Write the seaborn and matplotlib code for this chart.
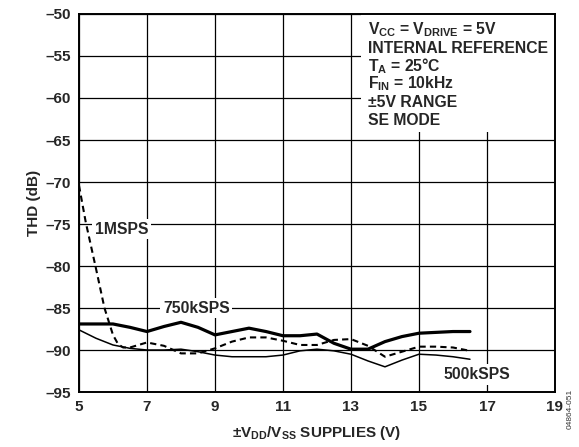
import pandas as pd
import seaborn as sns
import matplotlib.pyplot as plt
from matplotlib.patches import Rectangle

# data
x_750 = [5, 6, 6.5, 7, 7.5, 8, 8.5, 9, 9.5, 10, 10.5, 11, 11.5, 12, 12.5, 13, 13.5, 14, 14.5, 15, 15.5, 16, 16.5]
thd_750 = [-86.9, -86.9, -87.3, -87.8, -87.2, -86.7, -87.3, -88.2, -87.8, -87.4, -87.8, -88.3, -88.3, -88.1, -89.2, -89.9, -89.9, -89.0, -88.4, -88.0, -87.9, -87.8, -87.8]

x_500 = [5, 5.5, 6, 6.5, 7, 7.5, 8, 8.5, 9, 9.5, 10, 10.5, 11, 11.5, 12, 12.5, 13, 13.5, 14, 14.5, 15, 15.5, 16, 16.5]
thd_500 = [-87.6, -88.6, -89.4, -89.8, -90.0, -90.0, -89.9, -90.2, -90.6, -90.8, -90.8, -90.8, -90.6, -90.1, -89.9, -90.1, -90.5, -91.3, -92.0, -91.2, -90.5, -90.6, -90.8, -91.1]

x_1m = [5, 5.2, 5.5, 5.75, 6, 6.15, 6.3, 6.5, 7, 7.5, 8, 8.5, 9, 9.5, 10, 10.5, 11, 11.5, 12, 12.5, 13, 13.5, 14, 14.5, 15, 15.5, 16, 16.5]
thd_1m = [-70.4, -74.8, -80.3, -85.0, -88.2, -89.3, -89.7, -89.7, -89.1, -89.5, -90.4, -90.4, -89.8, -89.0, -88.5, -88.5, -88.9, -89.4, -89.4, -88.8, -88.7, -89.5, -90.8, -90.2, -89.6, -89.6, -89.7, -90.1]

x_ticks = [5, 7, 9, 11, 13, 15, 17, 19]
y_ticks = [-95, -90, -85, -80, -75, -70, -65, -60, -55, -50]

conditions = [
    r"V$_{\mathrm{CC}}$ = V$_{\mathrm{DRIVE}}$ = 5V",
    "INTERNAL REFERENCE",
    r"T$_{\mathrm{A}}$ = 25°C",
    r"F$_{\mathrm{IN}}$ = 10kHz",
    "±5V RANGE",
    "SE MODE",
]

sns.set_style("white")
plt.rcParams['font.family'] = ['Liberation Sans', 'DejaVu Sans']
plt.rcParams['font.weight'] = 'bold'
plt.rcParams['mathtext.fontset'] = 'custom'
plt.rcParams['mathtext.rm'] = 'Liberation Sans:bold'
plt.rcParams['mathtext.it'] = 'Liberation Sans:bold'
plt.rcParams['mathtext.bf'] = 'Liberation Sans:bold'

fig = plt.figure(figsize=(5.79, 4.47), dpi=100)
ax = fig.add_axes([0.1364, 0.123, 0.8221, 0.8457])

df_750 = pd.DataFrame({'x': x_750, 'thd': thd_750})
df_500 = pd.DataFrame({'x': x_500, 'thd': thd_500})
df_1m = pd.DataFrame({'x': x_1m, 'thd': thd_1m})

sns.lineplot(data=df_750, x='x', y='thd', ax=ax, color='black', linewidth=2.3, sort=False, zorder=5)
sns.lineplot(data=df_500, x='x', y='thd', ax=ax, color='black', linewidth=1.1, sort=False, zorder=5)
sns.lineplot(data=df_1m, x='x', y='thd', ax=ax, color='black', linewidth=1.5, sort=False, zorder=5,
             dashes=False, linestyle=(0, (3, 2)))

ax.set_xlim(5, 19)
ax.set_ylim(-95, -50)
ax.set_xticks(x_ticks)
ax.set_yticks(y_ticks)
ax.set_xticklabels([str(t) for t in x_ticks], fontsize=11, fontweight='bold')
ax.set_yticklabels([str(t).replace('-', '\u2013') for t in y_ticks], fontsize=11, fontweight='bold')
ax.tick_params(length=0, pad=6)
ax.grid(True, color='black', linewidth=0.9)
ax.set_axisbelow(True)
for s in ax.spines.values():
    s.set_color('black')
    s.set_linewidth(1.4)
    s.set_zorder(6)

ax.set_xlabel(r"±V$_{\mathrm{DD}}$/V$_{\mathrm{SS}}$ SUPPLIES (V)", fontsize=11, fontweight='bold', labelpad=7)
ax.set_ylabel("THD (dB)", fontsize=11, fontweight='bold', labelpad=3)

# curve labels with white backing that breaks the grid
lbl = dict(fontsize=11.3, fontweight='bold', ha='center', va='center', zorder=4,
           bbox=dict(facecolor='white', edgecolor='none', pad=2))
ax.text(6.25, -75.6, "1MSPS", **lbl)
ax.text(8.45, -85.0, "750kSPS", **lbl)
ax.text(16.7, -92.9, "500kSPS", **lbl)

# conditions box
ax.add_patch(Rectangle((13.3, -64.1), 5.7, 14.1, facecolor='white', edgecolor='none', zorder=3))
for i, line in enumerate(conditions):
    ax.text(13.5, -51.9 - i * 2.15, line, fontsize=11.3, fontweight='bold', va='center', ha='left', zorder=4)

fig.text(0.985, 0.085, "04864-051", rotation=90, fontsize=6, fontweight='normal', color='#333333',
         ha='center', va='center')

fig.savefig('out.png', dpi=100)
